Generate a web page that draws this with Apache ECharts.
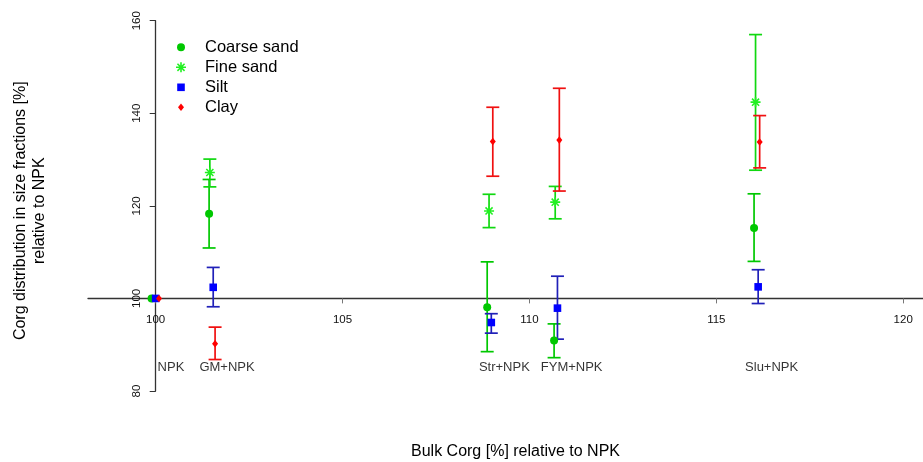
<!DOCTYPE html>
<html><head><meta charset="utf-8">
<script src="https://cdn.jsdelivr.net/npm/echarts@6/dist/echarts.min.js"></script>
<style>html,body{margin:0;padding:0;background:#fff}#c{width:923px;height:462px}</style>
</head><body><div id="c"></div>
<script>
// ---- data ----
const treatments = ['NPK', 'GM+NPK', 'Str+NPK', 'FYM+NPK', 'Slu+NPK'];
const treatmentLabelX = [100.41, 101.91, 109.33, 111.13, 116.48];
const treatmentLabelY = [85, 85, 85, 85, 85];

const coarseX  = [99.89, 101.43, 108.87, 110.66, 116.01];
const coarseY  = [100, 118.3, 98.1, 90.9, 115.2];
const coarseLo = [null, 110.9, 88.5, 87.2, 108.0];
const coarseHi = [null, 125.7, 107.9, 94.5, 122.6];

const fineX  = [null, 101.45, 108.92, 110.69, 116.05];
const fineY  = [null, 127.2, 118.9, 120.8, 142.4];
const fineLo = [null, 124.1, 115.3, 117.2, 127.7];
const fineHi = [null, 130.1, 122.5, 124.2, 157.0];

const siltX  = [100.0, 101.54, 108.98, 110.75, 116.12];
const siltY  = [100, 102.4, 94.8, 97.9, 102.5];
const siltLo = [null, 98.2, 92.5, 91.2, 98.9];
const siltHi = [null, 106.7, 96.7, 104.8, 106.2];

const clayX  = [100.09, 101.59, 109.02, 110.80, 116.16];
const clayY  = [100, 90.2, 133.9, 134.2, 133.8];
const clayLo = [null, 86.8, 126.4, 123.2, 128.2];
const clayHi = [null, 93.8, 141.3, 145.4, 139.5];

const xTicks = [100, 105, 110, 115, 120];
const seriesNames = ['Coarse sand', 'Fine sand', 'Silt', 'Clay'];

// ---- styling ----
const FONT = "'Liberation Sans', Arial, sans-serif";
const circlePath  = 'path://M0,0 M10,10 M1,5 A4,4 0 1,1 9,5 A4,4 0 1,1 1,5 Z';
const squarePath  = 'path://M0,0 M10,10 M1.2,1.2 L8.8,1.2 L8.8,8.8 L1.2,8.8 Z';
const diamondPath = 'path://M0,0 M10,10 M5,1.2 L8,5 L5,8.8 L2,5 Z';
const starPath = 'path://M0,4.2 L10,4.2 L10,5.8 L0,5.8 Z M4.2,0 L5.8,0 L5.8,10 L4.2,10 Z ' +
  'M0.9,2.0 L2.0,0.9 L9.1,8.0 L8.0,9.1 Z M8.0,0.9 L9.1,2.0 L2.0,9.1 L0.9,8.0 Z';

function pts(xs, ys) {
  const out = [];
  xs.forEach((x, i) => { if (x != null && ys[i] != null) out.push([x, ys[i]]); });
  return out;
}
function bars(xs, lo, hi) {
  const out = [];
  xs.forEach((x, i) => { if (x != null && lo[i] != null) out.push([x, lo[i], hi[i]]); });
  return out;
}
function errorSeries(name, data, color) {
  return {
    type: 'custom', name: name, data: data, z: 2, silent: true,
    encode: { x: 0, y: [1, 2] },
    renderItem: function (params, api) {
      const x = api.value(0);
      const p1 = api.coord([x, api.value(1)]);
      const p2 = api.coord([x, api.value(2)]);
      const hw = 6.5;
      const st = { stroke: color, lineWidth: 1.7 };
      return { type: 'group', children: [
        { type: 'line', shape: { x1: p1[0], y1: p1[1], x2: p2[0], y2: p2[1] }, style: st },
        { type: 'line', shape: { x1: p1[0] - hw, y1: p1[1], x2: p1[0] + hw, y2: p1[1] }, style: st },
        { type: 'line', shape: { x1: p2[0] - hw, y1: p2[1], x2: p2[0] + hw, y2: p2[1] }, style: st }
      ]};
    }
  };
}
function pointSeries(name, data, color, symbol) {
  return { type: 'scatter', name: name, data: data, symbol: symbol, symbolSize: 10, z: 3,
    itemStyle: { color: color, opacity: 1 }, emphasis: { disabled: true } };
}

const chart = echarts.init(document.getElementById('c'), null, { renderer: 'canvas' });
const option = {
  animation: false,
  backgroundColor: '#ffffff',
  textStyle: { fontFamily: FONT },
  grid: { left: 88, right: 0, top: 20.7, bottom: 71 },
  xAxis: {
    type: 'value', min: 98.19, max: 120.53, offset: -92.6,
    axisLine: { show: true, onZero: false, lineStyle: { color: '#333', width: 1.3 } },
    axisTick: { show: true, customValues: xTicks, length: 5, lineStyle: { color: '#777' } },
    axisLabel: { customValues: xTicks, margin: 15, fontSize: 11.5, color: '#111', fontFamily: FONT },
    splitLine: { show: false }
  },
  yAxis: {
    type: 'value', min: 80, max: 160, interval: 20, offset: -67.7,
    axisLine: { show: true, onZero: false, lineStyle: { color: '#333', width: 1.3 } },
    axisTick: { show: true, length: 6, lineStyle: { color: '#333' } },
    axisLabel: { rotate: 90, margin: 13, fontSize: 11.5, color: '#111', fontFamily: FONT },
    splitLine: { show: false }
  },
  legend: {
    orient: 'vertical', left: 171, top: 32.3, itemGap: 0,
    itemWidth: 38, itemHeight: 10, symbolKeepAspect: true,
    textStyle: { fontSize: 16.5, color: '#000', lineHeight: 20, fontFamily: FONT },
    data: [
      { name: 'Coarse sand', icon: circlePath },
      { name: 'Fine sand', icon: starPath },
      { name: 'Silt', icon: squarePath },
      { name: 'Clay', icon: diamondPath }
    ],
    selectedMode: false
  },
  graphic: [
    { type: 'text', x: 30, y: 210.7, rotation: Math.PI / 2,
      style: { text: 'Corg distribution in size fractions [%]\nrelative to NPK', x: 0, y: 0,
        align: 'center', verticalAlign: 'middle', fontSize: 16, lineHeight: 18.6,
        fontFamily: FONT, fill: '#000' } },
    { type: 'text', x: 515.5, y: 452,
      style: { text: 'Bulk Corg [%] relative to NPK', x: 0, y: 0, align: 'center',
        verticalAlign: 'middle', fontSize: 16, fontFamily: FONT, fill: '#000' } }
  ],
  series: [
    errorSeries('Coarse sand bars', bars(coarseX, coarseLo, coarseHi), '#00C800'),
    errorSeries('Fine sand bars', bars(fineX, fineLo, fineHi), '#10D810'),
    errorSeries('Silt bars', bars(siltX, siltLo, siltHi), '#2020B8'),
    errorSeries('Clay bars', bars(clayX, clayLo, clayHi), '#F01010'),
    pointSeries('Coarse sand', pts(coarseX, coarseY), '#00C800', circlePath),
    pointSeries('Fine sand', pts(fineX, fineY), '#22F022', starPath),
    pointSeries('Silt', pts(siltX, siltY), '#0000FF', squarePath),
    pointSeries('Clay', pts(clayX, clayY), '#FF0000', diamondPath),
    {
      type: 'scatter', name: 'treatment labels', silent: true, z: 4,
      symbolSize: 0,
      data: treatments.map((t, i) => ({ name: t, value: [treatmentLabelX[i], treatmentLabelY[i]] })),
      itemStyle: { color: 'transparent' },
      label: { show: true, position: 'inside', formatter: p => p.name,
        fontSize: 13, color: '#000', textBorderWidth: 0, fontFamily: FONT }
    }
  ]
};
chart.setOption(option);
</script>
</body></html>
